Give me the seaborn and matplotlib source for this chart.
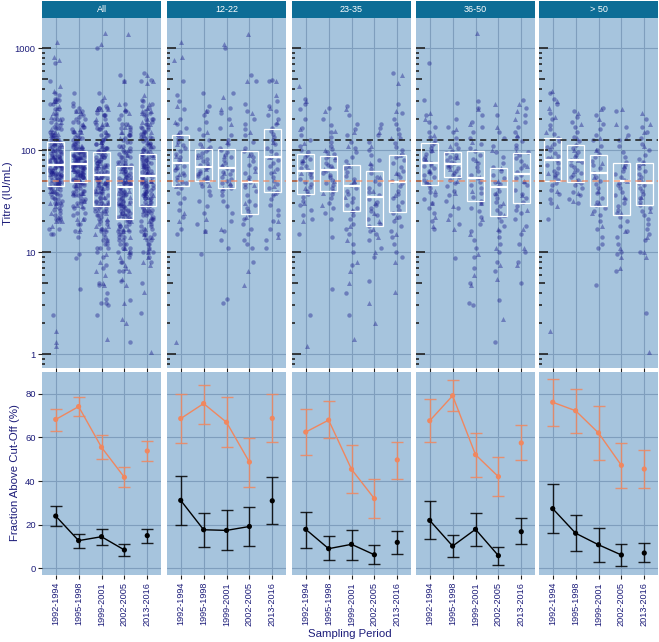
import numpy as np
import pandas as pd
import matplotlib
matplotlib.use('Agg')
import matplotlib.pyplot as plt
import seaborn as sns
from matplotlib.patches import Rectangle
from matplotlib.ticker import NullLocator

periods = ['1992-1994', '1995-1998', '1999-2001', '2002-2005', '2013-2016']
panels = ['All', '12-22', '23-35', '36-50', '> 50']
cut_hi = 125
cut_lo = 50

# titre values (circles / triangles), one list per period
c_12_22 = [
    [470, 350, 300, 255, 200, 180, 165, 150, 140, 135, 128, 120, 112, 105, 98, 92, 86, 80, 76, 73, 70, 67, 64, 60, 57, 54, 51, 49, 47, 45, 42, 38, 34, 30, 26, 22, 17, 15],
    [360, 270, 240, 220, 190, 160, 140, 125, 115, 108, 102, 98, 94, 90, 86, 82, 78, 75, 72, 70, 68, 66, 63, 60, 58, 56, 54, 52, 50, 47, 44, 40, 36, 32, 28, 24, 19, 16, 9.5],
    [1000, 360, 260, 230, 200, 165, 140, 125, 115, 105, 100, 95, 90, 85, 80, 75, 70, 67, 64, 61, 58, 55, 52, 50, 47, 45, 42, 40, 36, 32, 28, 24, 20, 16, 13, 11, 3.5, 3.2],
    [550, 470, 280, 240, 200, 180, 160, 140, 120, 105, 98, 92, 85, 78, 72, 66, 60, 55, 51, 49, 46, 43, 40, 36, 32, 29, 27, 25, 23, 21, 19, 17, 15, 13, 12, 11, 8],
    [490, 470, 300, 270, 240, 220, 200, 180, 165, 155, 145, 135, 125, 115, 105, 98, 92, 86, 80, 75, 70, 65, 60, 55, 50, 46, 42, 39, 36, 33, 29, 26, 23, 20, 17, 15, 13, 11],
]
t_12_22 = [
    [1150, 820, 760, 270, 190, 145, 115, 88, 68, 58, 44, 24, 20, 1.3],
    [240, 150, 110, 85, 65, 55, 45, 21, 16],
    [1100, 330, 250, 180, 120, 88, 72, 60, 48, 42, 17],
    [1370, 480, 230, 150, 90, 62, 45, 30, 22, 6.5, 4.8],
    [480, 350, 260, 190, 120, 85, 62, 44, 38, 20, 14],
]
c_23_35 = [
    [320, 280, 250, 200, 165, 140, 125, 110, 100, 95, 90, 86, 82, 78, 74, 70, 67, 64, 61, 58, 55, 52, 49, 46, 43, 40, 37, 35, 32, 29, 26, 23, 21, 15, 2.4],
    [260, 200, 175, 150, 135, 120, 110, 102, 96, 91, 87, 83, 79, 75, 72, 69, 66, 63, 60, 57, 54, 51, 48, 45, 42, 40, 37, 34, 30, 27, 24, 21, 14, 4.3],
    [270, 220, 180, 160, 140, 120, 105, 95, 85, 78, 72, 66, 61, 56, 52, 48, 45, 42, 40, 37, 34, 31, 29, 27, 25, 23, 21, 19, 17, 15, 12, 10, 7.5, 4, 2.4],
    [180, 165, 140, 120, 100, 90, 80, 72, 65, 60, 55, 50, 46, 42, 39, 36, 33, 31, 29, 27, 25, 23, 21, 19, 18, 16, 15, 13, 11, 9, 5.2],
    [570, 280, 230, 200, 180, 160, 145, 130, 118, 108, 100, 92, 86, 80, 74, 68, 63, 58, 54, 50, 47, 44, 40, 37, 34, 31, 28, 26, 24, 22, 20, 18, 16, 14, 12, 10, 9],
]
t_23_35 = [
    [420, 300, 160, 118, 80, 60, 42, 30, 20, 1.2],
    [240, 155, 100, 85, 65, 50, 38, 29],
    [250, 150, 110, 70, 50, 35, 26, 18, 13, 8, 6.5, 5, 1.4],
    [150, 110, 75, 55, 40, 30, 24, 20, 17, 14, 10, 3.2, 2],
    [540, 450, 240, 130, 90, 60, 36, 22, 15, 8, 4.1],
]
c_36_50 = [
    [710, 310, 220, 190, 170, 150, 135, 125, 118, 112, 105, 98, 92, 86, 82, 78, 75, 72, 69, 66, 63, 60, 57, 54, 51, 48, 45, 42, 39, 36, 33, 30, 27, 24, 20, 17],
    [290, 200, 170, 150, 130, 115, 105, 98, 94, 90, 86, 83, 80, 77, 74, 72, 70, 68, 66, 63, 60, 57, 54, 51, 48, 44, 40, 36, 32, 27, 23, 19, 8.7],
    [300, 260, 220, 190, 170, 150, 130, 115, 105, 98, 90, 82, 75, 68, 62, 57, 53, 49, 45, 42, 38, 35, 32, 30, 27, 25, 22, 19, 16, 13, 11, 9, 7, 5, 3.2, 3.0],
    [220, 150, 130, 110, 95, 85, 75, 68, 62, 57, 53, 49, 46, 43, 40, 37, 34, 31, 28, 26, 24, 22, 20, 18, 16, 14, 12, 10, 8, 6.5, 3.4, 1.3],
    [310, 260, 220, 190, 170, 150, 135, 122, 112, 104, 96, 90, 84, 78, 72, 66, 61, 57, 53, 49, 45, 41, 37, 34, 31, 28, 26, 24, 21, 18, 15, 12, 10, 8, 5],
]
t_36_50 = [
    [230, 200, 140, 100, 80, 62, 50, 40, 30, 22, 18],
    [160, 110, 85, 65, 50, 38, 28, 21, 17],
    [1400, 250, 180, 120, 80, 55, 40, 30, 21, 15, 9.5, 6, 4.8],
    [280, 170, 100, 66, 50, 38, 30, 23, 17, 11, 7.5, 5.5, 2.2],
    [280, 240, 200, 140, 95, 70, 50, 36, 26, 17, 11, 7.5],
]
c_50p = [
    [360, 320, 280, 230, 200, 175, 160, 145, 132, 122, 114, 106, 100, 94, 88, 83, 79, 75, 71, 67, 63, 60, 57, 54, 51, 48, 45, 41, 37, 33, 30, 21],
    [240, 210, 190, 170, 150, 135, 122, 112, 104, 96, 90, 85, 80, 76, 72, 68, 64, 60, 57, 54, 51, 48, 45, 42, 39, 36, 33, 30],
    [260, 220, 180, 160, 140, 125, 110, 100, 92, 85, 78, 72, 66, 60, 55, 50, 46, 42, 38, 34, 31, 29, 27, 25, 23, 20, 17, 14, 12, 11, 4.8],
    [240, 170, 140, 125, 110, 95, 85, 77, 72, 67, 62, 58, 54, 51, 48, 45, 42, 39, 36, 33, 30, 28, 26, 24, 22, 20, 18, 16, 14, 12, 10, 9.5, 6.5],
    [200, 170, 150, 130, 115, 100, 90, 82, 76, 71, 66, 62, 58, 54, 51, 48, 45, 42, 40, 37, 34, 31, 29, 27, 25, 23, 21, 19, 17, 15, 13, 10, 2.5],
]
t_50p = [
    [380, 300, 260, 210, 150, 110, 85, 60, 40, 28, 1.7],
    [230, 180, 130, 100, 80, 62, 50, 38, 32],
    [250, 200, 130, 100, 75, 55, 40, 30, 24, 18],
    [250, 180, 130, 70, 50, 35, 24, 16, 11, 9, 7],
    [230, 180, 150, 110, 75, 50, 35, 25, 14, 10, 9, 1.05],
]

# box quartiles (All, 12-22, 23-35, 36-50, > 50)
box_q25 = [[44, 49, 28.5, 21, 28], [44, 50, 42, 23.6, 38.5], [36.7, 40, 25, 17.9, 24.7], [45, 54, 31.8, 22.4, 30], [50, 49, 28, 23, 28.7]]
box_med = [[71, 73, 56.5, 43, 56], [75, 68, 66, 49, 85], [63, 64, 44, 34.6, 49], [75, 73, 53, 43, 58], [80, 79, 60, 50, 48]]
box_q75 = [[119, 97, 95, 70, 91], [139, 103, 103, 98.5, 160], [91, 88, 71, 63, 89], [118, 95, 98.5, 66, 93], [130, 111, 89, 74, 74]]

# fraction above cut-off (%) with intervals
f50 = [[68.3, 74.2, 55.5, 41.7, 53.8], [68.7, 75.6, 67.0, 48.7, 68.8], [62.5, 68.0, 45.4, 31.9, 49.7], [67.7, 79.2, 52.1, 42.0, 57.5], [76.2, 72.3, 62.1, 47.2, 45.5]]
f50_lo = [[62.8, 69.9, 50.0, 37.1, 49.3], [57.5, 66.4, 55.6, 37.2, 57.8], [51.9, 59.6, 34.5, 23.0, 41.1], [57.9, 72.2, 42.0, 33.0, 49.5], [65.1, 62.2, 49.7, 36.9, 36.6]]
f50_hi = [[73.2, 78.5, 61.3, 46.6, 58.4], [79.8, 84.3, 78.6, 59.9, 79.8], [73.1, 76.8, 56.4, 40.9, 58.1], [77.6, 86.4, 62.2, 51.0, 65.6], [87.0, 82.4, 74.6, 57.6, 54.1]]
f125 = [[23.9, 12.6, 14.4, 8.3, 14.9], [31.1, 17.6, 17.3, 19.1, 30.9], [17.8, 8.9, 10.9, 6.1, 11.8], [21.9, 10.1, 17.8, 5.7, 16.7], [27.3, 16.0, 10.7, 6.0, 6.9]]
f125_lo = [[19.1, 9.4, 10.4, 5.7, 11.7], [19.9, 9.7, 8.1, 10.3, 20.1], [9.4, 3.7, 3.8, 1.7, 6.4], [13.5, 5.1, 10.0, 1.5, 10.9], [16.0, 7.8, 2.8, 1.1, 2.6]]
f125_hi = [[28.7, 15.8, 18.1, 11.0, 18.1], [42.4, 25.4, 26.5, 27.9, 41.8], [25.9, 14.7, 17.3, 10.7, 17.0], [30.7, 15.3, 25.1, 9.5, 23.0], [38.5, 24.2, 18.4, 10.9, 11.4]]

sns.set_style('white')
plt.rcParams['font.family'] = ['Liberation Sans', 'DejaVu Sans']
np.random.seed(7)

navy = '#1c1c8c'
txt = '#1d1d7a'
bg = '#a6c4dd'
gridc = '#7f9ebd'
stripc = '#0d6d96'
orange = '#f0875f'


def to_frame(lists):
    rows = [(periods[i], v) for i, vals in enumerate(lists) for v in vals]
    return pd.DataFrame(rows, columns=['period', 'titre'])


ages_c = [c_12_22, c_23_35, c_36_50, c_50p]
ages_t = [t_12_22, t_23_35, t_36_50, t_50p]
all_c = [sum((a[i] for a in ages_c), []) for i in range(5)]
all_t = [sum((a[i] for a in ages_t), []) for i in range(5)]
circ = [all_c] + ages_c
tri = [all_t] + ages_t

W, H = 659, 642
fig = plt.figure(figsize=(W / 100, H / 100), dpi=100)
lefts = [42, 167, 292, 416, 539]
pw = 119


def px_axes(x0, y0, x1, y1):
    return fig.add_axes([x0 / W, 1 - y1 / H, (x1 - x0) / W, (y1 - y0) / H])


xs = np.arange(len(periods))
for j, name in enumerate(panels):
    # ---- top: titres ----
    ax = px_axes(lefts[j], 18, lefts[j] + pw, 368)
    ax.set_facecolor(bg)
    sns.stripplot(data=to_frame(circ[j]), x='period', y='titre', order=periods, color=navy,
                  marker='o', size=3.2, alpha=0.42, jitter=0.28, linewidth=0, ax=ax, zorder=2)
    sns.stripplot(data=to_frame(tri[j]), x='period', y='titre', order=periods, color=navy,
                  marker='^', size=3.6, alpha=0.42, jitter=0.28, linewidth=0, ax=ax, zorder=2)
    ax.set_yscale('log')
    ax.set_xlim(-0.6, 4.6)
    ax.set_ylim(0.73, 1970)
    ax.set_yticks([1, 10, 100, 1000])
    ax.set_yticklabels(['1', '10', '100', '1000'])
    ax.yaxis.set_minor_locator(NullLocator())
    ax.set_axisbelow(True)
    ax.grid(True, color=gridc, lw=0.8)
    for s in ax.spines.values():
        s.set_visible(False)
    ax.set_xlabel('')
    ax.set_ylabel('')
    for i in range(5):
        ax.add_patch(Rectangle((i - 0.38, box_q25[j][i]), 0.76, box_q75[j][i] - box_q25[j][i],
                               fill=False, ec='white', lw=0.9, zorder=4))
        ax.hlines(box_med[j][i], i - 0.38, i + 0.38, color='white', lw=1.6, zorder=4)
    ax.axhline(cut_hi, color='#1a1a1a', ls=(0, (4, 3)), lw=1.1, zorder=5)
    ax.axhline(cut_lo, color=orange, ls=(0, (4, 3)), lw=1.1, alpha=0.8, zorder=5)
    # log tick annotation on the left of each panel
    ytr = ax.get_yaxis_transform()
    for d in range(-1, 4):
        for k in range(1, 10):
            v = k * 10.0 ** d
            if 0.73 < v < 1970:
                L = 9 if k == 1 else (6 if k == 5 else 3)
                ax.plot([0, L / pw], [v, v], transform=ytr, color='#222222', lw=1.2,
                        solid_capstyle='butt', zorder=3)
    ax.tick_params(axis='x', bottom=True, length=3, width=0.8, color='#222222', labelbottom=False)
    if j == 0:
        ax.tick_params(axis='y', left=True, length=3, width=0.8, color='#222222',
                       labelsize=6.8, labelcolor=txt, pad=1.5)
    else:
        ax.tick_params(axis='y', left=False, labelleft=False)
    ax.add_patch(Rectangle((0, 1), 1, 17 / 350, transform=ax.transAxes, facecolor=stripc,
                           edgecolor='none', clip_on=False))
    ax.text(0.5, 1 + 8.5 / 350, name, transform=ax.transAxes, ha='center', va='center',
            color='white', fontsize=6.5)

    # ---- bottom: fraction above cut-off ----
    bx = px_axes(lefts[j], 372, lefts[j] + pw, 575)
    bx.set_facecolor(bg)
    for vals, lo, hi, col in [(f50[j], f50_lo[j], f50_hi[j], orange),
                              (f125[j], f125_lo[j], f125_hi[j], 'black')]:
        vals = np.array(vals)
        sns.lineplot(x=xs[:4], y=vals[:4], color=col, lw=1, ax=bx, zorder=3)
        bx.errorbar(xs, vals, yerr=[vals - np.array(lo), np.array(hi) - vals], fmt='none',
                    ecolor=col, elinewidth=1, capsize=4.5, capthick=1, alpha=0.85, zorder=3)
        sns.scatterplot(x=xs, y=vals, color=col, s=14, edgecolor='none', ax=bx, zorder=4)
    bx.set_xlim(-0.6, 4.6)
    bx.set_ylim(-3.2, 90.1)
    bx.set_xticks(xs)
    bx.set_xticklabels(periods, rotation=90)
    bx.set_yticks([0, 20, 40, 60, 80])
    bx.set_axisbelow(True)
    bx.grid(True, color=gridc, lw=0.8)
    for s in bx.spines.values():
        s.set_visible(False)
    bx.tick_params(axis='x', bottom=True, length=3, width=0.8, color='#222222',
                   labelsize=6.6, labelcolor=txt, pad=2)
    if j == 0:
        bx.tick_params(axis='y', left=True, length=3, width=0.8, color='#222222',
                       labelsize=6.8, labelcolor=txt, pad=1.5)
    else:
        bx.tick_params(axis='y', left=False, labelleft=False)

fig.text(350 / W, 1 - 634 / H, 'Sampling Period', ha='center', va='center', fontsize=8.2, color=txt)
fig.text(8 / W, 1 - 193 / H, 'Titre (IU/mL)', ha='center', va='center', rotation=90,
         fontsize=8.2, color=txt)
fig.text(15 / W, 1 - 473 / H, 'Fraction Above Cut-Off (%)', ha='center', va='center',
         rotation=90, fontsize=8.2, color=txt)

fig.savefig('out.png', dpi=100)
